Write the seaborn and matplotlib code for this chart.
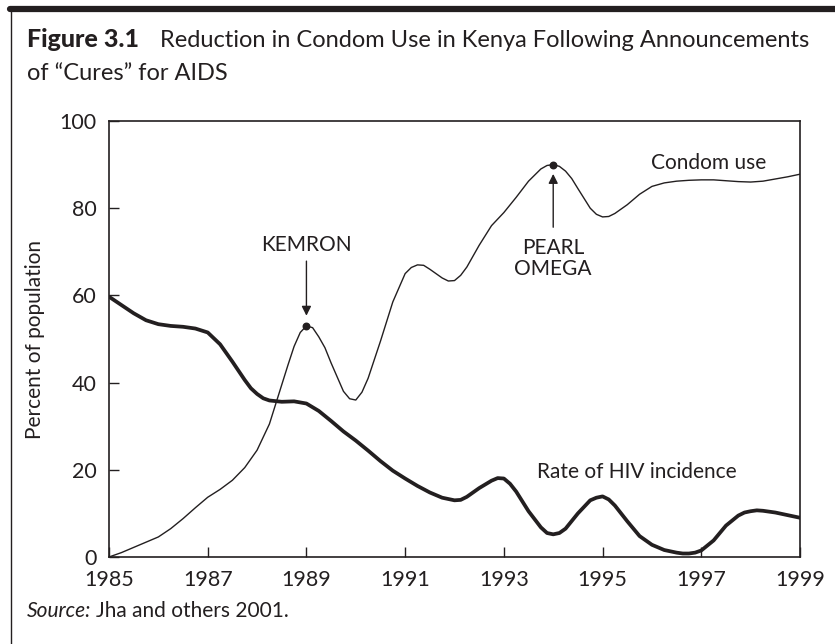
import numpy as np
import pandas as pd
import matplotlib
matplotlib.use('Agg')
import matplotlib.pyplot as plt
import seaborn as sns
from matplotlib.lines import Line2D

# values (percent of population)
condom_years = [1985.0, 1985.25, 1985.5, 1985.75, 1986.0, 1986.25, 1986.5, 1986.75,
                1987.0, 1987.25, 1987.5, 1987.75, 1988.0, 1988.25, 1988.5, 1988.625,
                1988.75, 1988.875, 1989.0, 1989.125, 1989.25, 1989.375, 1989.5, 1989.75,
                1989.875, 1990.0, 1990.125, 1990.25, 1990.5, 1990.75, 1991.0, 1991.125,
                1991.25, 1991.375, 1991.5, 1991.75, 1991.875, 1992.0, 1992.125, 1992.25,
                1992.5, 1992.75, 1993.0, 1993.25, 1993.5, 1993.75, 1993.875, 1994.0,
                1994.125, 1994.25, 1994.375, 1994.5, 1994.75, 1994.875, 1995.0, 1995.125,
                1995.25, 1995.5, 1995.75, 1996.0, 1996.25, 1996.5, 1996.75, 1997.0,
                1997.25, 1997.5, 1997.75, 1998.0, 1998.25, 1998.5, 1998.75, 1999.0]
condom_use = [0.0, 1.0, 2.2, 3.4, 4.6, 6.5, 8.8, 11.3,
              13.7, 15.5, 17.6, 20.5, 24.5, 30.5, 39.5, 44.0,
              48.3, 51.5, 53.0, 52.6, 50.5, 48.0, 44.5, 38.0,
              36.3, 36.0, 37.8, 41.0, 49.5, 58.5, 65.0, 66.4,
              67.0, 66.9, 66.0, 64.0, 63.3, 63.4, 64.6, 66.5,
              71.5, 76.0, 79.0, 82.5, 86.2, 89.0, 89.8, 90.0,
              89.6, 88.5, 86.8, 84.5, 80.0, 78.6, 78.0, 78.1,
              78.8, 80.8, 83.2, 85.0, 85.8, 86.2, 86.4, 86.5,
              86.5, 86.3, 86.1, 86.0, 86.2, 86.7, 87.2, 87.8]

hiv_years = [1985.0, 1985.25, 1985.5, 1985.75, 1986.0, 1986.25, 1986.5, 1986.75,
             1987.0, 1987.25, 1987.5, 1987.75, 1987.875, 1988.0, 1988.125, 1988.25,
             1988.5, 1988.75, 1989.0, 1989.25, 1989.5, 1989.75, 1990.0, 1990.25,
             1990.5, 1990.75, 1991.0, 1991.25, 1991.5, 1991.75, 1992.0, 1992.125,
             1992.25, 1992.5, 1992.75, 1992.875, 1993.0, 1993.125, 1993.25, 1993.5,
             1993.75, 1993.875, 1994.0, 1994.125, 1994.25, 1994.5, 1994.75, 1994.875,
             1995.0, 1995.125, 1995.25, 1995.5, 1995.75, 1996.0, 1996.25, 1996.5,
             1996.625, 1996.75, 1996.875, 1997.0, 1997.25, 1997.5, 1997.75, 1997.875,
             1998.0, 1998.125, 1998.25, 1998.5, 1998.75, 1999.0]
hiv_incidence = [59.7, 57.8, 55.9, 54.3, 53.4, 53.0, 52.8, 52.4,
                 51.5, 48.8, 44.8, 40.6, 38.7, 37.4, 36.4, 35.9,
                 35.6, 35.7, 35.2, 33.5, 31.2, 28.8, 26.7, 24.4,
                 22.0, 19.8, 18.0, 16.3, 14.8, 13.6, 13.0, 13.1,
                 13.8, 15.8, 17.5, 18.1, 18.0, 16.8, 15.0, 10.5,
                 6.8, 5.5, 5.2, 5.5, 6.5, 10.0, 13.0, 13.6,
                 13.9, 13.2, 11.8, 8.2, 4.8, 2.8, 1.6, 1.0,
                 0.8, 0.8, 1.0, 1.5, 3.8, 7.2, 9.5, 10.2,
                 10.5, 10.7, 10.6, 10.2, 9.6, 9.0]

# announced "cures" marked on the condom use line
cure_names = ['KEMRON', 'PEARL\nOMEGA']
cure_years = [1989.0, 1994.0]
cure_values = [53.0, 90.0]

xticks = [1985, 1987, 1989, 1991, 1993, 1995, 1997, 1999]
yticks = [0, 20, 40, 60, 80, 100]

ink = '#231f20'

sns.set_theme(style='ticks')
plt.rcParams['font.family'] = ['Lato', 'DejaVu Sans']
plt.rcParams['text.color'] = ink
plt.rcParams['axes.labelcolor'] = ink
plt.rcParams['xtick.color'] = ink
plt.rcParams['ytick.color'] = ink

condom_df = pd.DataFrame({'year': condom_years, 'value': condom_use})
hiv_df = pd.DataFrame({'year': hiv_years, 'value': hiv_incidence})

fig = plt.figure(figsize=(8.35, 6.44), dpi=100)
ax = fig.add_axes([109 / 835, 1 - 557 / 644, 691 / 835, 436 / 644])

sns.lineplot(data=condom_df, x='year', y='value', ax=ax, color=ink, linewidth=1.0)
sns.lineplot(data=hiv_df, x='year', y='value', ax=ax, color=ink, linewidth=2.7)

ax.set_xlim(1985, 1999)
ax.set_ylim(0, 100)
ax.set_xticks(xticks)
ax.set_yticks(yticks)
ax.tick_params(direction='in', length=7, width=1.0, labelsize=15.5)
ax.tick_params(axis='x', pad=9.5)
ax.tick_params(axis='y', pad=9)
for s in ax.spines.values():
    s.set_linewidth(1.2)
    s.set_color(ink)
ax.set_xlabel('')
ax.set_ylabel('Percent of population', fontsize=15, labelpad=10)

# markers and arrows for the announcements
ax.scatter(cure_years, cure_values, s=22, color=ink, zorder=5)
ax.annotate('', xy=(cure_years[0], cure_values[0] + 1.7), xytext=(cure_years[0], 68.5),
            arrowprops=dict(arrowstyle='-|>', color=ink, lw=1.0, mutation_scale=14))
ax.text(cure_years[0], 71.6, cure_names[0], ha='center', va='center', fontsize=15)
ax.annotate('', xy=(cure_years[1], cure_values[1] - 1.5), xytext=(cure_years[1], 75.0),
            arrowprops=dict(arrowstyle='-|>', color=ink, lw=1.0, mutation_scale=14))
ax.text(cure_years[1], 68.4, cure_names[1], ha='center', va='center', fontsize=15,
        linespacing=1.05)

ax.text(1997.14, 90.3, 'Condom use', ha='center', va='center', fontsize=15)
ax.text(1995.69, 19.6, 'Rate of HIV incidence', ha='center', va='center', fontsize=15)

# title block
fig.text(27 / 835, 1 - 47 / 644, 'Figure 3.1', fontsize=18, fontweight='black',
         ha='left', va='baseline')
fig.text(160 / 835, 1 - 47 / 644,
         'Reduction in Condom Use in Kenya Following Announcements',
         fontsize=17, ha='left', va='baseline')
fig.text(27 / 835, 1 - 80 / 644, 'of \u201cCures\u201d for AIDS', fontsize=17,
         ha='left', va='baseline')

# source line: italic lead-in, then the citation right after it
src = fig.text(27 / 835, 1 - 611 / 644, 'Source:', fontsize=15, style='italic',
               ha='left', va='center')
fig.canvas.draw()
bb = src.get_window_extent(renderer=fig.canvas.get_renderer())
fig.text((bb.x1 + 5) / fig.bbox.width, 1 - 611 / 644, 'Jha and others 2001.',
         fontsize=15, ha='left', va='center')

# frame: heavy rule on top, thin rule on the left
fig.add_artist(Line2D([10 / 835, 1], [1 - 9 / 644, 1 - 9 / 644],
                      transform=fig.transFigure, color=ink, linewidth=4.5))
fig.add_artist(Line2D([11 / 835, 11 / 835], [1 - 9 / 644, 0],
                      transform=fig.transFigure, color=ink, linewidth=1.0))

fig.savefig('out.png', dpi=100)
